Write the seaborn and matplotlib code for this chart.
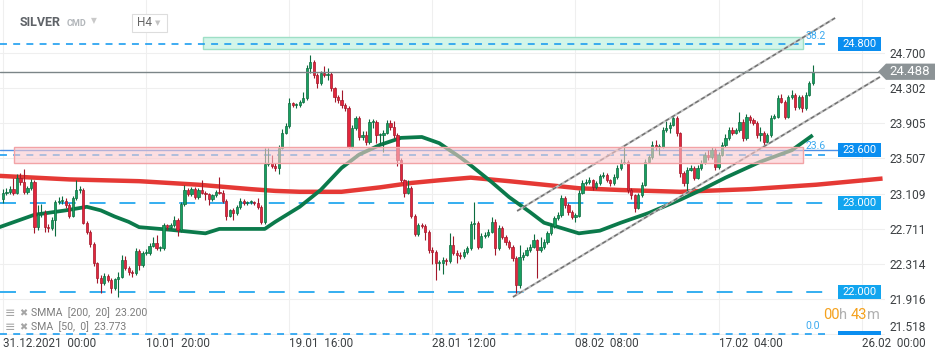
import numpy as np
import pandas as pd
import matplotlib
matplotlib.use("Agg")
import matplotlib.pyplot as plt
import matplotlib.transforms as mtransforms
from matplotlib.patches import Rectangle, Polygon
import seaborn as sns

# ---------------- data ----------------
first_open = 23.05
closes = [
    23.12, 23.13, 23.16, 23.12, 23.29, 23.24, 23.13, 23.17, 23.24, 22.73,
    22.88, 22.89, 22.73, 22.72, 22.81, 23.01, 23.03, 23.03, 22.98, 22.86,
    23.06, 23.15, 23.15, 22.78, 22.68, 22.54, 22.32, 22.16, 22.10, 22.18,
    22.13, 22.04, 22.14, 22.17, 22.36, 22.27, 22.22, 22.21, 22.46, 22.30,
    22.44, 22.44, 22.52, 22.55, 22.49, 22.49, 22.75, 22.73, 22.75, 22.81,
    22.70, 22.99, 23.15, 23.10, 23.16, 23.07, 23.15, 23.12, 23.10, 23.05,
    23.09, 23.13, 23.12, 23.03, 22.86, 22.92, 22.89, 22.96, 23.03, 23.00,
    23.01, 23.01, 23.00, 22.96, 22.79, 23.44, 23.46, 23.42, 23.40, 23.63,
    23.80, 23.87, 24.13, 24.11, 24.11, 24.15, 24.19, 24.53, 24.60, 24.45,
    24.36, 24.47, 24.45, 24.46, 24.30, 24.20, 24.17, 24.11, 24.08, 23.64,
    23.85, 23.97, 23.75, 23.77, 23.69, 23.92, 23.92, 23.77, 23.77, 23.80,
    23.91, 23.86, 23.77, 23.49, 23.26, 23.12, 23.17, 22.86, 22.65, 22.75,
    22.74, 22.68, 22.47, 22.45, 22.32, 22.32, 22.36, 22.35, 22.53, 22.44,
    22.42, 22.40, 22.45, 22.49, 22.77, 22.78, 22.51, 22.63, 22.64, 22.68,
    22.79, 22.49, 22.72, 22.62, 22.56, 22.51, 22.38, 22.08, 22.39, 22.42,
    22.47, 22.51, 22.58, 22.47, 22.51, 22.56, 22.66, 22.74, 22.83, 22.87,
    23.06, 22.98, 22.90, 22.85, 22.86, 23.12, 23.23, 23.24, 23.26, 23.18,
    23.23, 23.31, 23.32, 23.26, 23.23, 23.30, 23.40, 23.46, 23.47, 23.15,
    23.09, 22.95, 23.09, 23.21, 23.47, 23.52, 23.66, 23.64, 23.64, 23.83,
    23.85, 23.89, 23.97, 23.79, 23.34, 23.23, 23.38, 23.40, 23.29, 23.40,
    23.46, 23.55, 23.52, 23.60, 23.41, 23.55, 23.66, 23.74, 23.83, 23.80,
    23.83, 23.92, 23.74, 23.98, 23.94, 23.91, 23.77, 23.80, 23.69, 23.77,
    23.97, 23.98, 24.19, 24.15, 23.98, 24.20, 24.23, 24.09, 24.20, 24.08,
    24.23, 24.36, 24.49]
highs = [
    23.16, 23.17, 23.20, 23.29, 23.33, 23.34, 23.39, 23.20, 23.28, 23.26,
    22.98, 22.99, 22.92, 22.76, 22.84, 23.04, 23.07, 23.08, 23.06, 23.00,
    23.08, 23.26, 23.20, 23.17, 22.80, 22.70, 22.56, 22.34, 22.19, 22.21,
    22.20, 22.15, 22.16, 22.22, 22.41, 22.40, 22.29, 22.25, 22.49, 22.48,
    22.46, 22.48, 22.55, 22.62, 22.64, 22.52, 22.78, 22.77, 22.78, 22.86,
    22.83, 23.01, 23.21, 23.17, 23.18, 23.18, 23.17, 23.26, 23.14, 23.12,
    23.11, 23.15, 23.30, 23.15, 23.05, 22.94, 22.95, 22.98, 23.06, 23.05,
    23.03, 23.04, 23.03, 23.06, 22.98, 23.63, 23.63, 23.55, 23.46, 23.66,
    23.84, 23.91, 24.19, 24.15, 24.14, 24.17, 24.26, 24.56, 24.68, 24.62,
    24.47, 24.50, 24.55, 24.53, 24.48, 24.32, 24.22, 24.28, 24.13, 24.10,
    23.88, 23.99, 23.99, 23.82, 23.82, 23.95, 23.95, 23.94, 23.80, 23.83,
    23.94, 23.94, 23.93, 23.79, 23.51, 23.28, 23.26, 23.19, 22.88, 22.78,
    22.78, 22.76, 22.70, 22.50, 22.47, 22.36, 22.39, 22.38, 22.66, 22.63,
    22.47, 22.45, 22.48, 22.52, 22.80, 23.01, 22.80, 22.66, 22.67, 22.71,
    22.84, 22.82, 22.75, 22.74, 22.64, 22.58, 22.53, 22.40, 22.53, 22.45,
    22.50, 22.54, 22.65, 22.60, 22.62, 22.60, 22.69, 22.77, 22.86, 22.90,
    23.09, 23.08, 23.00, 22.92, 22.89, 23.15, 23.26, 23.27, 23.30, 23.28,
    23.25, 23.33, 23.35, 23.34, 23.28, 23.33, 23.43, 23.50, 23.66, 23.49,
    23.17, 23.11, 23.12, 23.24, 23.50, 23.55, 23.70, 23.72, 23.67, 23.86,
    23.93, 23.92, 24.00, 23.99, 23.81, 23.36, 23.41, 23.43, 23.42, 23.43,
    23.49, 23.58, 23.60, 23.64, 23.62, 23.58, 23.69, 23.78, 23.86, 23.86,
    23.85, 24.03, 23.95, 24.01, 24.00, 23.96, 23.93, 23.86, 23.82, 23.80,
    24.00, 24.01, 24.22, 24.24, 24.17, 24.23, 24.28, 24.25, 24.23, 24.22,
    24.26, 24.38, 24.56]
lows = [
    23.00, 23.09, 23.10, 23.09, 23.10, 23.21, 23.10, 23.10, 23.15, 22.66,
    22.70, 22.84, 22.68, 22.68, 22.70, 22.63, 22.99, 22.99, 22.95, 22.83,
    22.84, 23.04, 23.12, 22.76, 22.65, 22.51, 22.29, 22.10, 21.99, 22.08,
    22.11, 21.98, 22.02, 21.94, 22.15, 22.24, 22.19, 22.17, 22.19, 22.25,
    22.28, 22.41, 22.42, 22.50, 22.47, 22.46, 22.47, 22.70, 22.71, 22.73,
    22.63, 22.68, 22.97, 23.08, 23.08, 23.05, 23.05, 23.10, 23.04, 22.98,
    23.03, 23.07, 23.10, 23.00, 22.81, 22.84, 22.81, 22.87, 22.94, 22.98,
    22.98, 22.99, 22.98, 22.93, 22.77, 22.77, 23.42, 23.40, 23.37, 23.33,
    23.61, 23.78, 23.85, 24.09, 24.08, 24.09, 24.13, 24.17, 24.47, 24.42,
    24.30, 24.34, 24.43, 24.40, 24.27, 24.15, 24.14, 24.08, 24.04, 23.62,
    23.62, 23.83, 23.72, 23.72, 23.66, 23.67, 23.85, 23.68, 23.66, 23.58,
    23.78, 23.83, 23.74, 23.42, 23.24, 23.07, 23.10, 22.83, 22.63, 22.63,
    22.72, 22.58, 22.44, 22.31, 22.13, 22.25, 22.20, 22.30, 22.33, 22.42,
    22.33, 22.37, 22.38, 22.43, 22.47, 22.60, 22.48, 22.49, 22.61, 22.62,
    22.66, 22.42, 22.47, 22.60, 22.53, 22.48, 22.35, 21.96, 22.04, 22.36,
    22.40, 22.45, 22.49, 22.15, 22.45, 22.48, 22.54, 22.64, 22.72, 22.81,
    22.85, 22.95, 22.87, 22.82, 22.79, 22.84, 23.10, 23.21, 23.22, 23.15,
    23.16, 23.21, 23.29, 23.24, 23.20, 23.21, 23.28, 23.38, 23.44, 23.12,
    23.05, 22.90, 22.93, 23.07, 23.19, 23.45, 23.50, 23.60, 23.55, 23.62,
    23.81, 23.80, 23.87, 23.76, 23.30, 23.20, 23.12, 23.36, 23.26, 23.27,
    23.38, 23.44, 23.49, 23.50, 23.38, 23.39, 23.53, 23.64, 23.72, 23.77,
    23.78, 23.81, 23.71, 23.72, 23.91, 23.88, 23.74, 23.70, 23.66, 23.67,
    23.75, 23.95, 23.96, 24.13, 23.95, 23.96, 24.18, 24.06, 24.07, 24.03,
    24.06, 24.21, 24.34]

smma_idx = [-1, 19, 39, 56, 71, 78, 85, 97, 108, 117, 125, 134, 145, 155, 165, 177, 194, 214, 233, 252]
smma_val = [23.31, 23.27, 23.25, 23.21, 23.16, 23.14, 23.13, 23.13, 23.18, 23.23,
            23.26, 23.29, 23.25, 23.21, 23.17, 23.15, 23.13, 23.16, 23.21, 23.28]
sma_idx = [-1, 9, 18, 24, 28, 32, 36, 39, 48, 58, 62, 75, 78, 85, 91, 97, 102, 108, 114,
           120, 125, 131, 134, 140, 145, 151, 155, 160, 165, 171, 177, 185, 194, 200, 207,
           217, 226, 232]
sma_val = [22.73, 22.87, 22.92, 22.96, 22.92, 22.85, 22.79, 22.73, 22.70, 22.66, 22.71,
           22.71, 22.79, 22.96, 23.15, 23.40, 23.55, 23.66, 23.74, 23.75, 23.68, 23.52,
           23.43, 23.24, 23.07, 22.90, 22.78, 22.72, 22.66, 22.69, 22.78, 22.89, 23.04,
           23.15, 23.29, 23.47, 23.60, 23.77]

x_tick_pos = [0, 41, 82, 123, 164, 205, 246]
x_tick_labels = ["31.12.2021  00:00", "10.01  20:00", "19.01  16:00", "28.01  12:00",
                 "08.02  08:00", "17.02  04:00", "26.02  00:00"]
y_ticks = [24.700, 24.302, 23.905, 23.507, 23.109, 22.711, 22.314, 21.916, 21.518]

level_dashed = [23.0, 22.0]
fib_levels = [24.80, 23.55, 21.52]
fib_labels = ["38.2", "23.6", "0.0"]
level_solid = 23.6
box_levels = [24.8, 23.6, 23.0, 22.0]
box_labels = ["24.800", "23.600", "23.000", "22.000"]
current_price = 24.488

green_zone = [57.3, 229.2, 24.741, 24.877]   # x0, x1, y0, y1
red_zone = [3.15, 229.2, 23.459, 23.640]
chan_upper_x, chan_upper_y = [147.3, 238.4], [22.913, 25.096]
chan_lower_x, chan_lower_y = [146.1, 251.3], [21.94, 24.43]

smma_label = "SMMA  [200,  20]  23.200"
sma_label = "SMA  [50,  0]  23.773"

# ---------------- style ----------------
sns.set_style("white")
plt.rcParams['font.family'] = ['Roboto', 'DejaVu Sans']
plt.rcParams['lines.scale_dashes'] = False

W, H = 950, 360
fig = plt.figure(figsize=(W / 100, H / 100), dpi=100)
fig.patch.set_facecolor("white")
ax = fig.add_axes([0, 25 / H, 885 / W, 335 / H])
ax.set_facecolor("white")
ax.set_xlim(-0.86, 252.7)
ax.set_ylim(21.510, 25.2995)
for s in ax.spines.values():
    s.set_visible(False)

ax.set_yticks(y_ticks)
ax.set_yticklabels([f"{v:.3f}" for v in y_ticks])
ax.yaxis.tick_right()
ax.tick_params(axis='y', length=0, pad=3.5, labelsize=8.6, labelcolor='#3c4043')
ax.get_yticklabels()[-1].set_va('bottom')
ax.set_xticks(x_tick_pos)
ax.set_xticklabels(x_tick_labels)
ax.tick_params(axis='x', length=0, pad=1.5, labelsize=8.4, labelcolor='#3c4043')
for lbl in ax.get_xticklabels():
    lbl.set_ha('left')
ax.grid(True, color='#efefef', lw=0.8)
ax.set_axisbelow(True)

# horizontal reference lines
x_end_lines = 235.5
for lv in level_dashed:
    ax.plot([-1, x_end_lines], [lv, lv], color='#34aef0', lw=1.4,
            linestyle=(0, (11.5, 10)), zorder=1.6)
for lv in fib_levels:
    ax.plot([-1, x_end_lines], [lv, lv], color='#1e9ef0', lw=1.2,
            linestyle=(0, (5, 4.5)), zorder=1.6, clip_on=False)
for lv, lbl in zip(fib_levels, fib_labels):
    ax.annotate(lbl, (229.8, lv), xytext=(0, 2.5), textcoords='offset points',
                ha='left', va='bottom', fontsize=7.5, color='#3ba9ef', zorder=6)
ax.plot([-1, 239.3], [level_solid, level_solid], color='#4a8fe6', lw=1.0, zorder=1.7)

# green zone
ax.add_patch(Rectangle((green_zone[0], green_zone[2]), green_zone[1] - green_zone[0],
                       green_zone[3] - green_zone[2], facecolor='#d3f5e9',
                       edgecolor='#9edfc6', lw=1.0, zorder=1.2))

# moving averages (seaborn)
sns.lineplot(x=smma_idx, y=smma_val, ax=ax, color='#e53935', lw=3.2, zorder=2,
             solid_capstyle='butt')
sns.lineplot(x=sma_idx, y=sma_val, ax=ax, color='#0b7a4b', lw=2.7, zorder=2.2,
             solid_capstyle='butt')

# candles
c = np.array(closes)
o = np.r_[first_open, c[:-1]]
h = np.array(highs)
l = np.array(lows)
idx = np.arange(len(c))
up = c >= o
face = np.where(up, '#17a060', '#e3263c')
edge = np.where(up, '#0c6c3f', '#a3172a')
ax.vlines(idx, l, h, colors=edge, lw=0.8, zorder=3)
ax.bar(idx, np.maximum(np.abs(c - o), 0.012), bottom=np.minimum(o, c), width=0.64,
       color=face, edgecolor=edge, linewidth=0.5, zorder=3.1)

# trend channel
for xs, ys in [(chan_upper_x, chan_upper_y), (chan_lower_x, chan_lower_y)]:
    ax.plot(xs, ys, color='#c2c2c2', lw=1.6, zorder=4, solid_capstyle='butt')
    ax.plot(xs, ys, color='#6f6f6f', lw=1.0, linestyle=(0, (3, 2)), zorder=4.1)

# current price line
ax.axhline(current_price, color='#7b8588', lw=1.0, zorder=4.2)

# red zone on top (translucent)
ax.add_patch(Rectangle((red_zone[0], red_zone[2]), red_zone[1] - red_zone[0],
                       red_zone[3] - red_zone[2], facecolor='#fbc9cd', alpha=0.6,
                       edgecolor='none', zorder=5))
ax.add_patch(Rectangle((red_zone[0], red_zone[2]), red_zone[1] - red_zone[0],
                       red_zone[3] - red_zone[2], facecolor='none',
                       edgecolor='#f2a3a6', lw=1.0, zorder=5.1))

# blue level boxes at right
blend = mtransforms.blended_transform_factory(ax.transAxes, ax.transData)
box_cols = ['#0a8ef0', '#0a8ef0', '#12a5ef', '#12a5ef']
bx0, bw, bh = 838 / 885, 43 / 885, 0.16
for lv, lbl, col in zip(box_levels, box_labels, box_cols):
    ax.add_patch(Rectangle((bx0, lv - bh / 2), bw, bh, transform=blend,
                           facecolor=col, edgecolor='none', zorder=6))
    ax.text(bx0 + bw / 2, lv, lbl, transform=blend, ha='center', va='center',
            color='white', fontsize=8, zorder=7)
ax.add_patch(Rectangle((bx0, 21.40), bw, 0.16, transform=blend,
                       facecolor='#0a8ef0', edgecolor='none', zorder=6))

# current price tag
fblend = mtransforms.blended_transform_factory(fig.transFigure, ax.transData)
th = 0.092
tag = Polygon([(878 / W, current_price), (886 / W, current_price + th),
               (935 / W, current_price + th), (935 / W, current_price - th),
               (886 / W, current_price - th)], closed=True, transform=fblend,
              facecolor='#8c9396', edgecolor='none', clip_on=False, zorder=8)
ax.add_patch(tag)
ax.text(910 / W, current_price, f"{current_price:.3f}", transform=fblend,
        ha='center', va='center', color='white', fontsize=9.5, clip_on=False, zorder=9)

# header
def fx(x):
    return x / W


def fy(y):
    return 1 - y / H


fig.text(fx(20), fy(22), "SILVER", fontsize=9, fontweight='bold', color='#5f6368',
         va='center', ha='left')
fig.text(fx(67), fy(23), "CMD", fontsize=6.5, fontweight='bold', color='#b3b7bb',
         va='center', ha='left')
fig.text(fx(91), fy(21), "▼", fontsize=5.5, color='#c9c9c9', va='center', ha='left',
         family=['DejaVu Sans'])
fig.add_artist(Rectangle((fx(132), fy(32)), fx(35), 18 / H, transform=fig.transFigure,
                         facecolor='white', edgecolor='#dddddd', lw=0.8))
fig.text(fx(137), fy(23), "H4", fontsize=8.5, color='#666666', va='center', ha='left')
fig.text(fx(155), fy(23), "▼", fontsize=5, color='#c2c2c2', va='center', ha='left',
         family=['DejaVu Sans'])

# indicator legend
for yy, txt in [(313, smma_label), (327, sma_label)]:
    fig.text(fx(5), fy(yy), "≡", fontsize=9, color='#a5a5a5', va='center', ha='left',
             family=['DejaVu Sans'])
    fig.text(fx(19), fy(yy), "✖", fontsize=7, color='#a5a5a5', va='center', ha='left',
             family=['DejaVu Sans'])
    fig.text(fx(31), fy(yy), txt, fontsize=7.6, color='#7d7d7d', va='center', ha='left')

# countdown timer
for x, txt, col in [(823, "00", '#f5a11c'), (839, "h", '#b0b0b0'),
                    (851, "43", '#f5a11c'), (867, "m", '#b0b0b0')]:
    fig.text(fx(x), fy(315), txt, fontsize=10.5, color=col, va='center', ha='left')

fig.savefig("out.png", dpi=100, facecolor="white")
